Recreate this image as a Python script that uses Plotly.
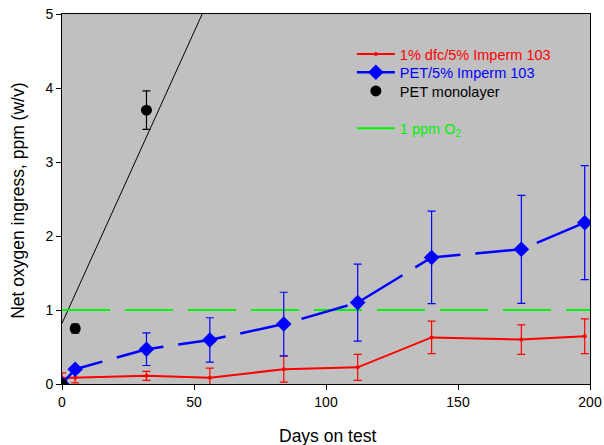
import plotly.graph_objects as go

# Days on test
days = [0, 5, 32, 56, 84, 112, 140, 174, 198]

# 1% dfc/5% Imperm 103
red_y = [0.08, 0.085, 0.11, 0.085, 0.20, 0.225, 0.63, 0.60, 0.645]
red_err = [0.07, 0.07, 0.06, 0.13, 0.175, 0.175, 0.22, 0.20, 0.235]

# PET/5% Imperm 103
blue_y = [0.0, 0.20, 0.47, 0.595, 0.81, 1.10, 1.71, 1.82, 2.18]
blue_err = [0.0, 0.0, 0.22, 0.30, 0.43, 0.52, 0.625, 0.73, 0.77]

# PET monolayer
pet_x = [0, 5, 32]
pet_y = [0.0, 0.75, 3.70]
pet_err = [0.0, 0.06, 0.26]

# Trend line for PET monolayer
fit_x = [0, 53.1]
fit_y = [0.82, 5.0]

# 1 ppm O2 reference
ref_x = [0, 200]
ref_y = [1, 1]

x_ticks = [0, 50, 100, 150, 200]
y_ticks = [0, 1, 2, 3, 4, 5]

FONT = "Liberation Sans, Arial, sans-serif"

fig = go.Figure()

fig.add_trace(go.Scatter(x=fit_x, y=fit_y, mode="lines",
                         line=dict(color="black", width=1), showlegend=False,
                         hoverinfo="skip"))

fig.add_trace(go.Scatter(x=ref_x, y=ref_y, mode="lines",
                         name="<span style='color:#00F000'>1 ppm O<sub>2</sub></span>",
                         line=dict(color="#00F500", width=2.2, dash="48px,15px"),
                         legend="legend4"))

fig.add_trace(go.Scatter(x=days, y=red_y, mode="lines+markers",
                         name="<span style='color:#FF0000'>1% dfc/5% Imperm 103</span>",
                         line=dict(color="#FF0000", width=2),
                         marker=dict(color="#FF0000", size=4, symbol="circle"),
                         error_y=dict(type="data", array=red_err, color="#FF0000",
                                      thickness=1.2, width=4),
                         legend="legend"))

fig.add_trace(go.Scatter(x=days, y=blue_y, mode="lines+markers",
                         name="<span style='color:#0000FF'>PET/5% Imperm 103</span>",
                         line=dict(color="#0000FF", width=2.5, dash="48px,15px"),
                         marker=dict(color="#0000FF", size=12, symbol="diamond"),
                         error_y=dict(type="data", array=blue_err, color="#0000FF",
                                      thickness=1.2, width=4),
                         legend="legend2"))

fig.add_trace(go.Scatter(x=pet_x, y=pet_y, mode="markers",
                         name="<span style='color:#000000'>PET monolayer</span>",
                         marker=dict(color="black", size=11, symbol="circle"),
                         error_y=dict(type="data", array=pet_err, color="black",
                                      thickness=1.2, width=4),
                         legend="legend3"))

PH = 370.0  # plot height in px
PW = 528.0  # plot width in px
BOTTOM = 384.0  # bottom of plot area in page px


def leg(row_center):
    return dict(x=0.549, y=(BOTTOM - row_center) / PH, xanchor="left",
                yanchor="middle", bgcolor="rgba(0,0,0,0)",
                font=dict(size=14.5, family=FONT), itemwidth=38)


fig.update_layout(
    width=604, height=445,
    margin=dict(l=62, r=14, t=14, b=61, autoexpand=False),
    paper_bgcolor="white",
    plot_bgcolor="#C0C0C0",
    font=dict(family=FONT, size=14, color="black"),
    showlegend=True,
    legend=leg(54),
    legend2=leg(72.3),
    legend3=leg(91),
    legend4=leg(128.3),
    xaxis=dict(range=[0, 200], tickvals=x_ticks, ticks="outside", ticklen=5,
               tickcolor="black", showline=True, linecolor="black", linewidth=1,
               mirror=True, showgrid=False, zeroline=False, automargin=False,
               ticklabeloverflow="allow"),
    yaxis=dict(range=[0, 5], tickvals=y_ticks, ticks="outside", ticklen=5,
               tickcolor="black", showline=True, linecolor="black", linewidth=1,
               mirror=True, showgrid=False, zeroline=False, automargin=False,
               ticklabeloverflow="allow"),
    annotations=[
        dict(text="Days on test", xref="paper", yref="paper", x=0.502,
             y=-51.5 / PH, xanchor="center", yanchor="middle", showarrow=False,
             font=dict(size=17.5, family=FONT)),
        dict(text="Net oxygen ingress, ppm (w/v)", xref="paper", yref="paper",
             x=-44 / PW, y=0.495, xanchor="center", yanchor="middle",
             showarrow=False, textangle=-90, font=dict(size=17.5, family=FONT)),
    ],
)

fig.write_html("out.html",
               config={"displayModeBar": False},
               post_script="document.body.style.margin='0';"
                           "document.body.style.overflow='hidden';")
